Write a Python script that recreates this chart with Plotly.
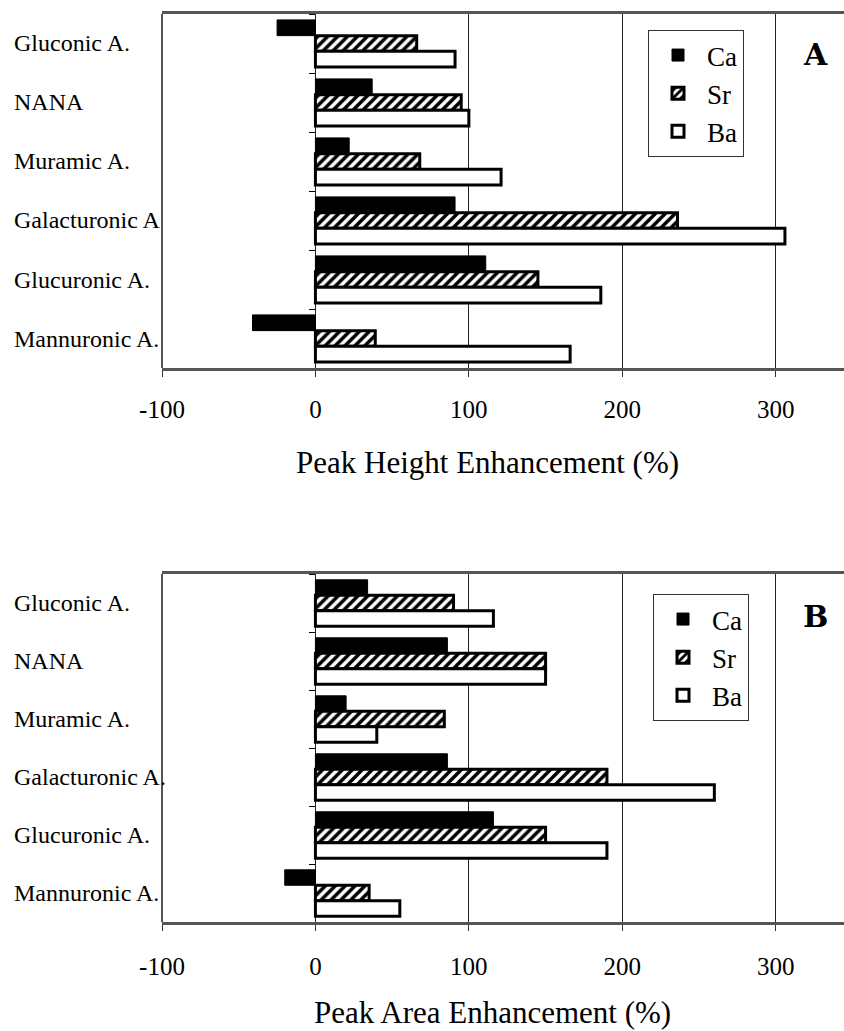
import plotly.graph_objects as go

categories = ["Gluconic A.", "NANA", "Muramic A.", "Galacturonic A", "Glucuronic A.", "Mannuronic A."]
categories_b = ["Gluconic A.", "NANA", "Muramic A.", "Galacturonic A.", "Glucuronic A.", "Mannuronic A."]
series = ["Ca", "Sr", "Ba"]

# Panel A: Peak Height Enhancement (%)
height_ca = [-25, 37, 22, 91, 111, -41]
height_sr = [66, 95, 68, 236, 145, 39]
height_ba = [91, 100, 121, 306, 186, 166]

# Panel B: Peak Area Enhancement (%)
area_ca = [34, 86, 20, 86, 116, -20]
area_sr = [90, 150, 84, 190, 150, 35]
area_ba = [116, 150, 40, 260, 190, 55]

x_ticks = [-100, 0, 100, 200, 300]
x_range = [-100, 344.5]

SERIF = "Liberation Serif"
W, H = 844, 1031

def px_x(p):
    return p / W

def px_y(p):
    return 1 - p / H

styles = {
    "Ca": dict(color="black", line=dict(color="black", width=1)),
    "Sr": dict(color="white", line=dict(color="black", width=3),
               pattern=dict(shape="/", fgcolor="black", bgcolor="white", size=7, solidity=0.5)),
    "Ba": dict(color="white", line=dict(color="black", width=3)),
}

fig = go.Figure()

panels = [
    ("x", "y", "legend", categories, [height_ca, height_sr, height_ba], "A"),
    ("x2", "y2", "legend2", categories_b, [area_ca, area_sr, area_ba], "B"),
]
for xa, ya, lg, cats, vals, tag in panels:
    for name, v in zip(series, vals):
        fig.add_trace(go.Bar(
            y=cats, x=v, name=name, orientation="h",
            marker=styles[name], xaxis=xa, yaxis=ya, legend=lg,
            legendgroup=tag + name, hoverinfo="x+y",
        ))

x_dom = [162 / W, 1.0]
x0_paper = x_dom[0] + (x_dom[1] - x_dom[0]) * (0 - x_range[0]) / (x_range[1] - x_range[0])

def xaxis_cfg(anchor, standoff):
    return dict(
        domain=x_dom, range=x_range, anchor=anchor, automargin=False,
        tickvals=x_ticks, ticktext=[str(t) for t in x_ticks],
        ticks="outside", ticklen=6, tickcolor="#333", tickwidth=1,
        showgrid=True, gridcolor="#222", gridwidth=1, zeroline=False,
        showline=True, linecolor="#555", linewidth=3, mirror=True,
        tickfont=dict(family=SERIF, size=25, color="black"),
        ticklabelstandoff=standoff, fixedrange=True,
    )

def yaxis_cfg(dom):
    return dict(
        domain=dom, anchor="free", position=x0_paper, autorange="reversed",
        automargin=False,
        type="category", ticks="outside", tickson="boundaries", ticklen=6,
        tickcolor="black", showticklabels=False, showgrid=False, showline=False,
        zeroline=False, fixedrange=True,
    )

ydomA = [px_y(368), px_y(14)]
ydomB = [px_y(922), px_y(574)]

leg_common = dict(xanchor="left", yanchor="top", bordercolor="#333", borderwidth=1,
                  bgcolor="white", font=dict(family=SERIF, size=27, color="black"),
                  tracegroupgap=0, itemwidth=48)

fig.update_layout(
    template="none",
    width=W, height=H, margin=dict(l=0, r=0, t=0, b=0, pad=0, autoexpand=False),
    paper_bgcolor="white", plot_bgcolor="white",
    barmode="group", bargap=0.2, bargroupgap=0.0,
    xaxis=xaxis_cfg("y", 11), xaxis2=xaxis_cfg("y2", 14),
    yaxis=yaxis_cfg(ydomA), yaxis2=yaxis_cfg(ydomB),
    font=dict(family=SERIF, color="black"),
    legend=dict(x=px_x(648), y=px_y(30), **leg_common),
    legend2=dict(x=px_x(653), y=px_y(594), **leg_common),
)

shapes = []
for xr, yr in [("x", "y"), ("x2", "y2")]:
    shapes.append(dict(type="line", xref=xr + " domain", yref=yr + " domain",
                       x0=0, x1=0, y0=0, y1=1, line=dict(color="#555", width=2)))
fig.update_layout(shapes=shapes)

annotations = []
for cat in categories:
    annotations.append(dict(x=px_x(12), y=cat, xref="paper", yref="y", text=cat,
                            xanchor="left", yanchor="middle", showarrow=False,
                            font=dict(family=SERIF, size=24, color="black")))
for cat in categories_b:
    annotations.append(dict(x=px_x(12), y=cat, xref="paper", yref="y2", text=cat,
                            xanchor="left", yanchor="middle", showarrow=False,
                            font=dict(family=SERIF, size=24, color="black")))
annotations += [
    dict(x=px_x(487), y=px_y(463), xref="paper", yref="paper", text="Peak Height Enhancement (%)",
         showarrow=False, xanchor="center", yanchor="middle",
         font=dict(family=SERIF, size=31, color="black")),
    dict(x=px_x(492), y=px_y(1012), xref="paper", yref="paper", text="Peak Area Enhancement (%)",
         showarrow=False, xanchor="center", yanchor="middle",
         font=dict(family=SERIF, size=31, color="black")),
    dict(x=px_x(815), y=px_y(54), xref="paper", yref="paper", text="<b>A</b>",
         showarrow=False, xanchor="center", yanchor="middle",
         font=dict(family="DejaVu Serif", size=30, color="black")),
    dict(x=px_x(815), y=px_y(616), xref="paper", yref="paper", text="<b>B</b>",
         showarrow=False, xanchor="center", yanchor="middle",
         font=dict(family="DejaVu Serif", size=30, color="black")),
]
fig.update_layout(annotations=annotations)

fig.write_html("out.html", config={"displayModeBar": False},
               post_script="document.body.style.margin='0px';document.body.style.overflow='hidden';")
